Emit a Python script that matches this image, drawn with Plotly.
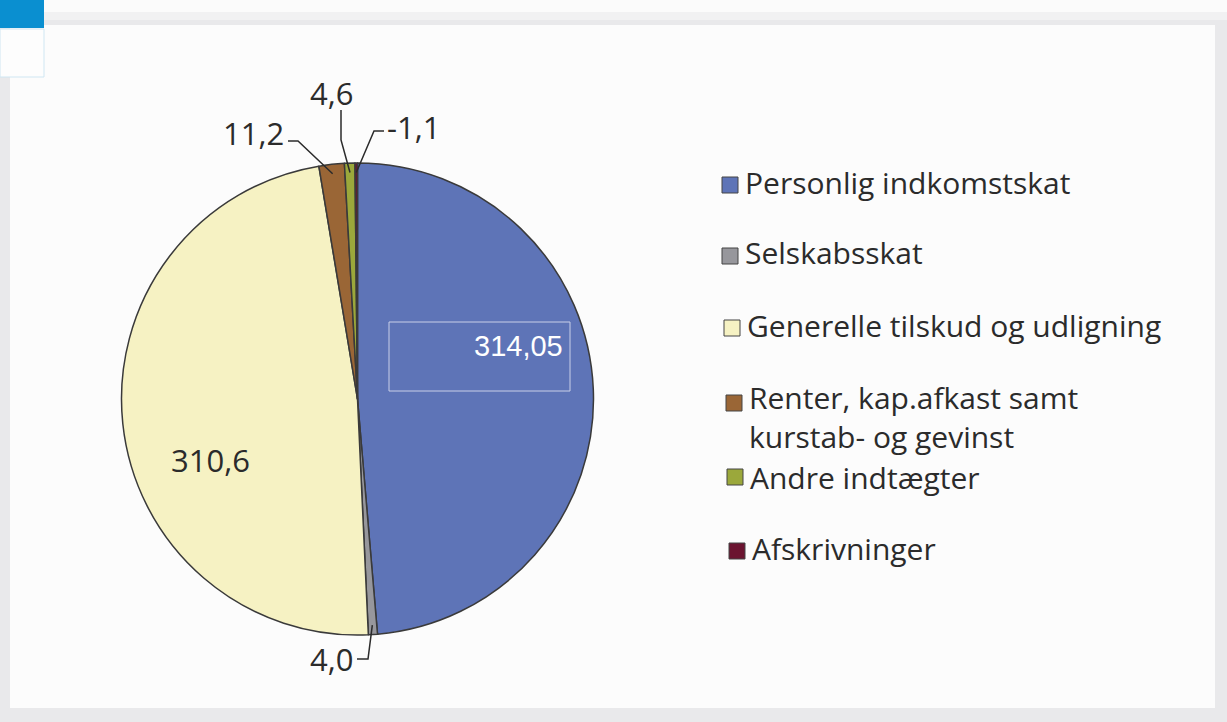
import math
import plotly.graph_objects as go

# ---- data ----
categories = ["Personlig indkomstskat", "Selskabsskat", "Generelle tilskud og udligning",
              "Renter, kap.afkast samt<br>kurstab- og gevinst", "Andre indtægter", "Afskrivninger"]
values = [314.05, 4.0, 310.6, 11.2, 4.6, -1.1]
value_labels = ["314,05", "4,0", "310,6", "11,2", "4,6", "-1,1"]
colors = ["#5e74b7", "#97979c", "#f6f2c3", "#9a6636", "#9ba83b", "#6b1430"]

W, H = 1227, 722
abs_vals = [abs(v) for v in values]
total = sum(abs_vals)

# pie geometry (pixels)
cx, cy, R = 357.5, 399.0, 236.0

def px(x, y):
    return x / W, 1 - y / H

fig = go.Figure()
fig.add_trace(go.Pie(
    labels=[c.replace("<br>", " ") for c in categories],
    values=abs_vals,
    sort=False,
    direction="clockwise",
    rotation=0,
    marker=dict(colors=colors, line=dict(color="#3a3a3a", width=1.5)),
    textinfo="none",
    hoverinfo="label+value",
    showlegend=False,
    domain=dict(x=[(cx - R) / W, (cx + R) / W], y=[1 - (cy + R) / H, 1 - (cy - R) / H]),
))

shapes = []
annotations = []

# slide background
shapes.append(dict(type="rect", xref="paper", yref="paper", x0=0, x1=1, y0=0, y1=1,
                   fillcolor="#e9e9eb", line=dict(width=0), layer="below"))
shapes.append(dict(type="rect", xref="paper", yref="paper", x0=0, x1=1, y0=1 - 12 / H, y1=1,
                   fillcolor="#fbfbfb", line=dict(width=0), layer="below"))
shapes.append(dict(type="rect", xref="paper", yref="paper", x0=0, x1=1, y0=1 - 20 / H, y1=1 - 12 / H,
                   fillcolor="#f1f1f2", line=dict(width=0), layer="below"))
x0, y0 = px(10, 25)
x1, y1 = px(1215, 708)
shapes.append(dict(type="rect", xref="paper", yref="paper", x0=x0, x1=x1, y0=y1, y1=y0,
                   fillcolor="#fcfcfc", line=dict(width=0), layer="below"))
# blue tab top-left
a0, b0 = px(0, 0); a1, b1 = px(44, 28)
shapes.append(dict(type="rect", xref="paper", yref="paper", x0=a0, x1=a1, y0=b1, y1=b0,
                   fillcolor="#0a8fd0", line=dict(width=0), layer="below"))
a0, b0 = px(0, 29); a1, b1 = px(44, 77)
shapes.append(dict(type="rect", xref="paper", yref="paper", x0=a0, x1=a1, y0=b1, y1=b0,
                   fillcolor="#fdfdfd", line=dict(color="#cfe6f2", width=1), layer="below"))

# slice mid-angle edge point from data
cum = 0
mids = []
for v in abs_vals:
    mids.append((cum + v / 2) / total * 2 * math.pi)
    cum += v

def edge(i, f=0.96):
    t = mids[i]
    return cx + R * f * math.sin(t), cy - R * f * math.cos(t)

label_font = dict(family="Open Sans, sans-serif", size=31, color="#2b2b2b")

def leader(points):
    d = ""
    for k, (x, y) in enumerate(points):
        xp, yp = px(x, y)
        d += ("M" if k == 0 else "L") + f"{xp},{yp} "
    shapes.append(dict(type="path", xref="paper", yref="paper", path=d,
                       line=dict(color="#2b2b2b", width=1.5)))

# outside labels with leader lines
ex, ey = edge(3)
leader([(288, 141), (298, 141), (ex, ey)])
lx, ly = px(286, 133)
annotations.append(dict(x=lx, y=ly, xref="paper", yref="paper", text=value_labels[3],
                        showarrow=False, xanchor="right", yanchor="middle", font=label_font))

ex, ey = edge(4)
leader([(341, 110), (341, 140), (ex, ey)])
lx, ly = px(331, 93)
annotations.append(dict(x=lx, y=ly, xref="paper", yref="paper", text=value_labels[4],
                        showarrow=False, xanchor="center", yanchor="middle", font=label_font))

ex, ey = edge(5)
leader([(384, 131), (374, 131), (ex, ey)])
lx, ly = px(385, 127)
annotations.append(dict(x=lx, y=ly, xref="paper", yref="paper", text=value_labels[5],
                        showarrow=False, xanchor="left", yanchor="middle", font=label_font))

ex, ey = edge(1)
leader([(357, 659), (368, 659), (ex, ey)])
lx, ly = px(355, 659)
annotations.append(dict(x=lx, y=ly, xref="paper", yref="paper", text=value_labels[1],
                        showarrow=False, xanchor="right", yanchor="middle", font=label_font))

# inside labels
lx, ly = px(210, 460)
annotations.append(dict(x=lx, y=ly, xref="paper", yref="paper", text=value_labels[2],
                        showarrow=False, xanchor="center", yanchor="middle", font=label_font))
bx0, by0 = px(389, 322); bx1, by1 = px(570, 391)
shapes.append(dict(type="rect", xref="paper", yref="paper", x0=bx0, x1=bx1, y0=by1, y1=by0,
                   fillcolor="rgba(0,0,0,0)", line=dict(color="#c9cfe8", width=1)))
lx, ly = px(565, 346)
annotations.append(dict(x=lx, y=ly, xref="paper", yref="paper", text=value_labels[0],
                        showarrow=False, xanchor="right", yanchor="middle",
                        font=dict(family="Liberation Sans, Arial, sans-serif", size=29, color="white")))

# legend (built from categories and colors)
legend_rows = [182, 252, 325, 417, 477, 548]
square_rows = [185, 256, 328, 403, 477, 551]
square_x = [722, 722, 724, 726, 727, 729]
legend_font = dict(family="Open Sans, sans-serif", size=30, color="#2b2b2b")
for i, cat in enumerate(categories):
    sx = square_x[i]
    sy = square_rows[i]
    qa, qb = px(sx, sy - 8)
    qc, qd = px(sx + 16, sy + 8)
    shapes.append(dict(type="rect", xref="paper", yref="paper", x0=qa, x1=qc, y0=qd, y1=qb,
                       fillcolor=colors[i], line=dict(color="#444444", width=1)))
    tx, ty = px(sx + 21, legend_rows[i])
    annotations.append(dict(x=tx, y=ty, xref="paper", yref="paper", text=cat, align="left",
                            showarrow=False, xanchor="left", yanchor="middle", font=legend_font))

fig.update_layout(
    width=W, height=H,
    margin=dict(l=0, r=0, t=0, b=0),
    paper_bgcolor="#fcfcfc",
    plot_bgcolor="#fcfcfc",
    shapes=shapes,
    annotations=annotations,
    showlegend=False,
)

fig.write_html("out.html", config={"displayModeBar": False},
               post_script="document.body.style.margin='0px';")
